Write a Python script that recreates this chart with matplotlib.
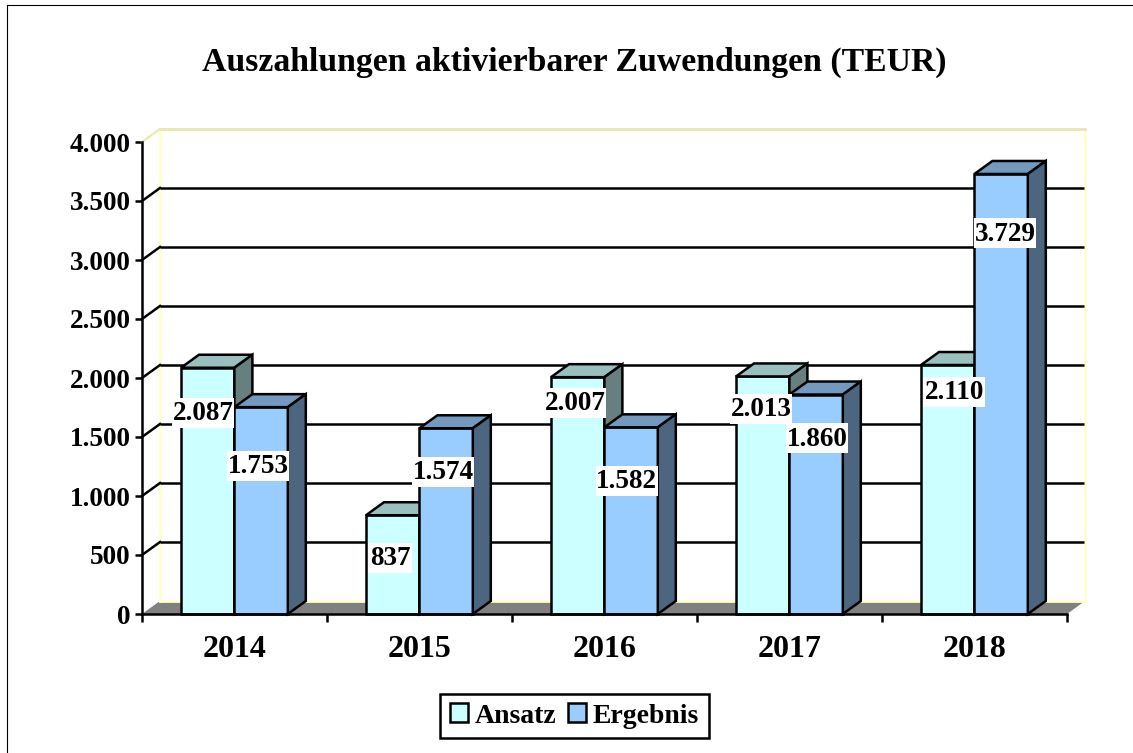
import numpy as np
import matplotlib
matplotlib.use("Agg")
import matplotlib.pyplot as plt
from matplotlib.patches import Patch, Polygon, Rectangle

# ---------- DATA ----------
years = ["2014", "2015", "2016", "2017", "2018"]
ansatz = [2087, 837, 2007, 2013, 2110]
ergebnis = [1753, 1574, 1582, 1860, 3729]
y_ticks = [0, 500, 1000, 1500, 2000, 2500, 3000, 3500, 4000]
y_tick_labels = ["0", "500", "1.000", "1.500", "2.000", "2.500", "3.000", "3.500", "4.000"]
title = "Auszahlungen aktivierbarer Zuwendungen (TEUR)"

# hand placed labels of the original (centres, in data units)
ansatz_label_x = [0.33, 1.34, 2.34, 3.346, 4.39]
ansatz_label_y = [1703, 475, 1788, 1737, 1881]
ergebnis_label_x = [0.627, 1.627, 2.62, 3.65, 4.665]
ergebnis_label_y = [1258, 1203, 1127, 1491, 3225]
# --------------------------

W, H = 1133, 753
LEFT, RIGHT, TOP, BOTTOM = 142, 1067, 142, 614

CY = "#CCFFFF"
CY_TOP = "#99BFBF"
CY_SIDE = "#668080"
BL = "#99CCFF"
BL_TOP = "#7399BF"
BL_SIDE = "#4D6680"
WALL = "#FFFFCC"

plt.rcParams["font.family"] = ["Liberation Serif", "DejaVu Serif"]
plt.rcParams["font.weight"] = "bold"

fig = plt.figure(figsize=(W / 100, H / 100), dpi=100)
ax = fig.add_axes([LEFT / W, 1 - BOTTOM / H, (RIGHT - LEFT) / W, (BOTTOM - TOP) / H])
ax.set_xlim(0, 5)
ax.set_ylim(0, 4000)

# depth of the fake 3d box, in data units
dx = 18 / 185
dy = 13 / 472 * 4000
lw = 1.8
# white label box size, data units
box_w = 62 / 185
box_h = 30 / 472 * 4000


def bar3d(x0, w, v, front, top, side, z):
    ax.add_patch(Rectangle((x0, 0), w, v, fc=front, ec="black", lw=lw, zorder=z,
                           clip_on=False, joinstyle="miter"))
    ax.add_patch(Polygon([(x0, v), (x0 + dx, v + dy), (x0 + w + dx, v + dy), (x0 + w, v)],
                         fc=top, ec="black", lw=lw, zorder=z, clip_on=False, joinstyle="miter"))
    ax.add_patch(Polygon([(x0 + w, 0), (x0 + w + dx, dy), (x0 + w + dx, v + dy), (x0 + w, v)],
                         fc=side, ec="black", lw=lw, zorder=z, clip_on=False, joinstyle="miter"))


# floor and walls
ax.add_patch(Polygon([(0, 0), (dx, dy), (5 + dx, dy), (5, 0)], fc="#808080", ec="none",
                     zorder=1, clip_on=False))
ax.plot([dx, dx], [dy, 4000 + dy], color=WALL, lw=2, zorder=1, clip_on=False)
ax.plot([5 + dx, 5 + dx], [dy, 4000 + dy], color=WALL, lw=2, zorder=1, clip_on=False)
ax.plot([dx, 5 + dx], [4000 + dy, 4000 + dy], color="#E8E8B0", lw=2, zorder=1, clip_on=False)
ax.plot([dx, 5 + dx], [dy, dy], color=WALL, lw=2, zorder=1.5, clip_on=False)

# grid lines run along the back wall and fold down to the axis
for v in y_ticks[1:]:
    if v < 4000:
        ax.plot([dx, 5 + dx - 0.005], [v + dy, v + dy], color="black", lw=lw, zorder=2,
                clip_on=False, solid_capstyle="butt")
        ax.plot([0, dx], [v, v + dy], color="black", lw=lw, zorder=2, clip_on=False)
ax.plot([0, dx], [4000, 4000 + dy], color="#E8E8B0", lw=1.5, zorder=2, clip_on=False)

bar_w = 53.4 / 185
offset = 39 / 185
for i in range(len(years)):
    bar3d(i + offset, bar_w, ansatz[i], CY, CY_TOP, CY_SIDE, 3)
    bar3d(i + offset + bar_w, bar_w, ergebnis[i], BL, BL_TOP, BL_SIDE, 3.1)

# value labels on white boxes
for i in range(len(years)):
    for lx, ly, val in [(ansatz_label_x[i], ansatz_label_y[i], ansatz[i]),
                        (ergebnis_label_x[i], ergebnis_label_y[i], ergebnis[i])]:
        txt = f"{val:,}".replace(",", ".")
        w = box_w if val >= 1000 else box_w * 0.72
        ax.add_patch(Rectangle((lx - w / 2, ly - box_h / 2), w, box_h, fc="white", ec="none",
                               zorder=4.5, clip_on=False))
        ax.text(lx, ly - 8, txt, ha="center", va="center", fontsize=19.5, zorder=5)

for s in ["top", "right"]:
    ax.spines[s].set_visible(False)
for s in ["left", "bottom"]:
    ax.spines[s].set_linewidth(lw)
    ax.spines[s].set_zorder(6)

ax.set_yticks(y_ticks)
ax.set_yticklabels(y_tick_labels, fontsize=19.5)
ax.set_xticks(range(6))
ax.set_xticklabels([])
ax.set_xticks(np.arange(5) + 0.5, minor=True)
ax.set_xticklabels(years, minor=True, fontsize=23)
ax.tick_params(axis="x", which="minor", length=0, pad=15)
ax.tick_params(axis="x", which="major", length=6, width=lw)
ax.tick_params(axis="y", length=5, width=lw, pad=3)

fig.text(574 / W, 1 - 62 / H, title, ha="center", va="center", fontsize=24.3)

handles = [Patch(fc=CY, ec="black", lw=lw), Patch(fc=BL, ec="black", lw=lw)]
leg = fig.legend(handles, ["Ansatz", "Ergebnis"], loc="center", ncol=2,
                 bbox_to_anchor=(574.5 / W, 1 - 716 / H), fontsize=20, fancybox=False,
                 edgecolor="black", framealpha=1, handlelength=0.65, handleheight=0.65,
                 handletextpad=0.25, columnspacing=0.4, borderpad=0.35, borderaxespad=0)
leg.get_frame().set_linewidth(lw)

# outer chart frame, only top and left show
fig.add_artist(plt.Line2D([7 / W, 7 / W, 1], [0, 1 - 5 / H, 1 - 5 / H],
                          color="black", lw=0.8))

fig.savefig("out.png", dpi=100)
